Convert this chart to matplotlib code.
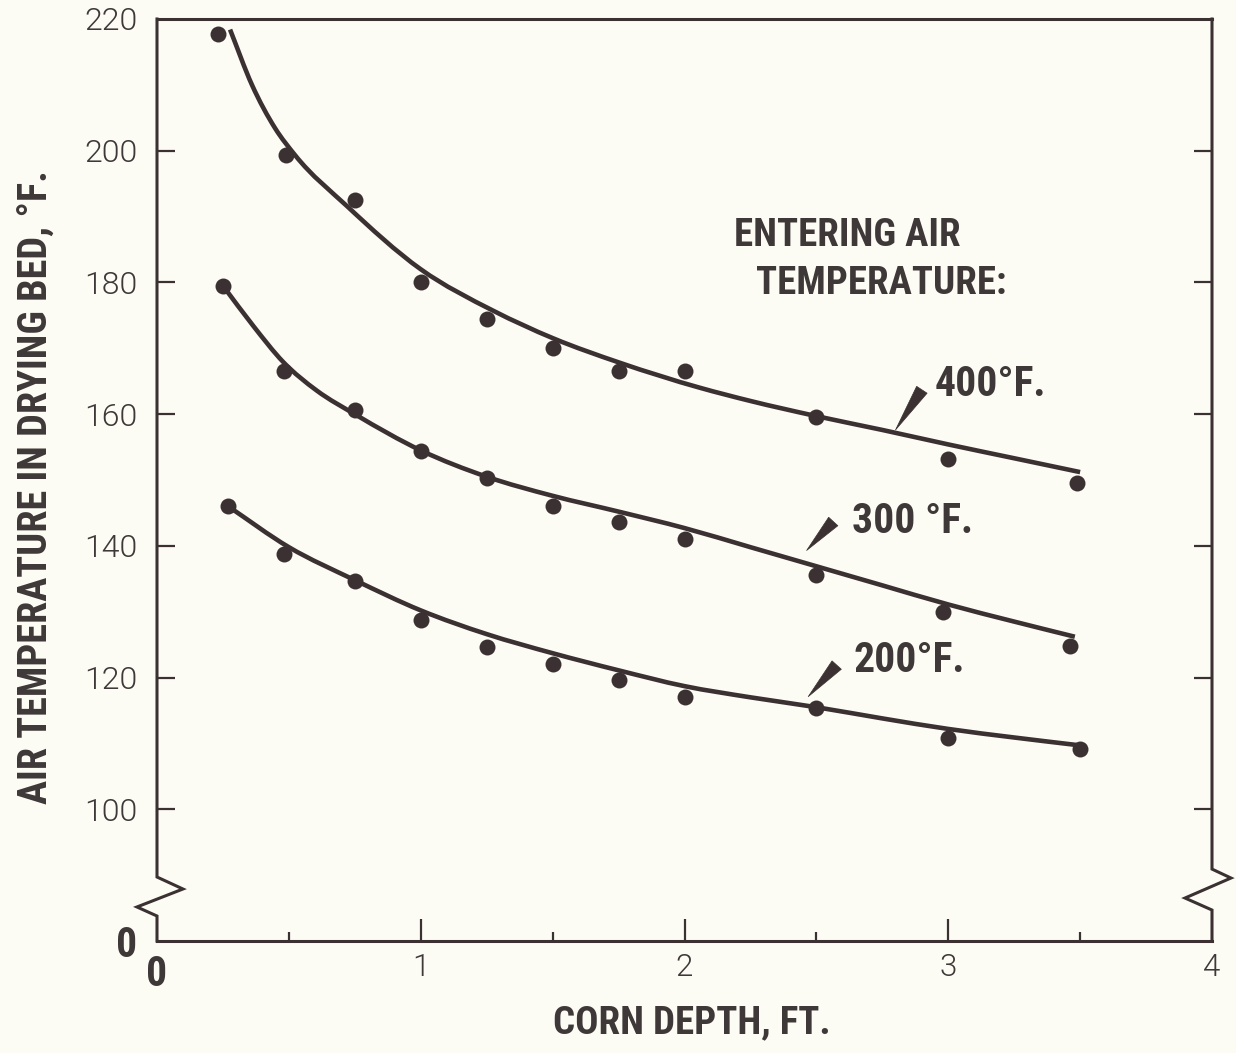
import matplotlib
matplotlib.use("Agg")
import matplotlib.pyplot as plt
from matplotlib.font_manager import FontProperties, fontManager
from matplotlib.path import Path
from matplotlib.patches import PathPatch

# ---------------- data ----------------
# measured points
x_400 = [0.23, 0.49, 0.75, 1.00, 1.25, 1.50, 1.75, 2.00, 2.50, 3.00, 3.49]
y_400 = [217.7, 199.3, 192.5, 180.0, 174.5, 170.1, 166.5, 166.5, 159.6, 153.2, 149.5]

x_300 = [0.25, 0.48, 0.75, 1.00, 1.25, 1.50, 1.75, 2.00, 2.50, 2.98, 3.46]
y_300 = [179.5, 166.5, 160.7, 154.4, 150.3, 146.1, 143.6, 141.0, 135.5, 130.0, 124.8]

x_200 = [0.27, 0.48, 0.75, 1.00, 1.25, 1.50, 1.75, 2.00, 2.50, 3.00, 3.50]
y_200 = [146.0, 138.7, 134.7, 128.8, 124.7, 122.1, 119.7, 117.1, 115.4, 110.8, 109.1]

# fitted curves
cx_400 = [0.277, 0.36, 0.448, 0.524, 0.72, 1.00, 1.275, 1.503, 1.755,
          2.059, 2.25, 2.50, 2.75, 3.00, 3.25, 3.50]
cy_400 = [218.4, 210.0, 203.4, 199.3, 191.6, 182.0, 175.7, 171.5, 167.8,
          164.0, 162.0, 159.7, 157.6, 155.4, 153.3, 151.2]

cx_300 = [0.25, 0.365, 0.479, 0.605, 0.754, 1.00, 1.25, 1.50, 1.75, 2.00, 2.25,
          2.50, 2.75, 3.00, 3.25, 3.48]
cy_300 = [179.5, 173.4, 167.9, 163.6, 159.9, 154.5, 150.5, 147.6, 145.2, 142.7, 139.8,
          136.9, 134.0, 131.1, 128.5, 126.2]

cx_200 = [0.27, 0.50, 0.75, 1.00, 1.25, 1.50, 1.75, 2.00, 2.25, 2.50, 2.75,
          3.00, 3.25, 3.50]
cy_200 = [146.0, 139.8, 134.8, 130.2, 126.6, 123.7, 121.1, 118.7, 117.0, 115.5,
          113.8, 112.2, 110.9, 109.7]

series_labels = ["400\u00b0F.", "300 \u00b0F.", "200\u00b0F."]

x_ticks = [0, 1, 2, 3, 4]
x_ticklabels = ["0", "1", "2", "3", "4"]
x_minor = [0.5, 1.5, 2.5, 3.5]
y_ticks = [80, 100, 120, 140, 160, 180, 200, 220]
y_ticklabels = ["0", "100", "120", "140", "160", "180", "200", "220"]

# ---------------- fonts ----------------
def _weight(w):
    if isinstance(w, str):
        return {"bold": 700, "semibold": 600, "demibold": 600, "heavy": 800,
                "black": 900, "normal": 400, "regular": 400}.get(w.lower(), 400)
    return int(w)

def pick_condensed_bold():
    prefs = ["Noto Sans", "Roboto Condensed", "Liberation Sans Narrow",
             "Open Sans", "DejaVu Sans", "Roboto", "Lato", "Inter"]
    cands = []
    for f in fontManager.ttflist:
        nm = f.name
        fn = f.fname.lower()
        cond = (("narrow" in nm.lower()) or ("condensed" in nm.lower())
                or ("condensed" in fn) or ("narrow" in fn)
                or (str(f.stretch) in ("condensed", "semi-condensed", "extra-condensed")))
        if not cond or f.style != "normal":
            continue
        if "extracondensed" in fn.replace("-", "").replace("_", "") or "extra" in str(f.stretch):
            continue
        w = _weight(f.weight)
        if w < 600:
            continue
        rank = next((i for i, p in enumerate(prefs) if nm.startswith(p)), 99)
        cands.append((rank, abs(w - 700), f.fname))
    if cands:
        cands.sort()
        return cands[0][2]
    return None

COND = pick_condensed_bold()

def bold_narrow(s):
    if COND:
        return FontProperties(fname=COND, size=s)
    return FontProperties(family=["Liberation Sans", "DejaVu Sans"], weight="bold",
                          size=s * 0.9)

light = lambda s: FontProperties(family=["Roboto", "Liberation Sans", "DejaVu Sans"],
                                 weight=300, size=s)

# ---------------- style ----------------
BG = "#fcfcf4"
INK = "#3b3133"
TXT = "#3e3838"

def smooth_path(xs, ys):
    """Cubic Hermite (Bezier) rendering through the read curve points."""
    n = len(xs)
    h = [xs[i + 1] - xs[i] for i in range(n - 1)]
    d = [(ys[i + 1] - ys[i]) / h[i] for i in range(n - 1)]
    m = [0.0] * n
    m[0], m[-1] = d[0], d[-1]
    for i in range(1, n - 1):
        m[i] = (d[i - 1] * h[i] + d[i] * h[i - 1]) / (h[i - 1] + h[i])
    verts = [(xs[0], ys[0])]
    codes = [Path.MOVETO]
    for i in range(n - 1):
        verts += [(xs[i] + h[i] / 3, ys[i] + m[i] * h[i] / 3),
                  (xs[i + 1] - h[i] / 3, ys[i + 1] - m[i + 1] * h[i] / 3),
                  (xs[i + 1], ys[i + 1])]
        codes += [Path.CURVE4] * 3
    return Path(verts, codes)

W, H = 1236, 1053
fig = plt.figure(figsize=(W / 100, H / 100), dpi=100, facecolor=BG)
L, R, T, B = 157, 1212, 19, 941
ax = fig.add_axes([L / W, 1 - B / H, (R - L) / W, (B - T) / H], facecolor=BG)
ax.set_xlim(0, 4)
ax.set_ylim(80, 220)

# curves and points
for cx, cy, px, py in [(cx_400, cy_400, x_400, y_400),
                       (cx_300, cy_300, x_300, y_300),
                       (cx_200, cy_200, x_200, y_200)]:
    ax.add_patch(PathPatch(smooth_path(cx, cy), fc="none", ec=INK, lw=3.3,
                           capstyle="butt", zorder=3))
    ax.plot(px, py, "o", color=INK, ms=11.5, mew=0, zorder=4)

# spines
for s in ["left", "right"]:
    ax.spines[s].set_visible(False)
for s in ["top", "bottom"]:
    ax.spines[s].set_linewidth(2.2)
    ax.spines[s].set_color(INK)

zig_l_x = [0, 0, 0.0246, -0.019, 0, 0]
zig_l_y = [1, 0.0694, 0.0564, 0.0369, 0.0271, 0]
zig_r_x = [1, 1, 1.018, 0.9744, 1, 1]
zig_r_y = [1, 0.078, 0.0683, 0.0466, 0.0336, 0]
for zx, zy in [(zig_l_x, zig_l_y), (zig_r_x, zig_r_y)]:
    ax.plot(zx, zy, transform=ax.transAxes, color=INK, lw=2.2, clip_on=False,
            solid_joinstyle="miter", zorder=5)

# ticks
ax.set_xticks(x_ticks)
ax.set_xticklabels(x_ticklabels)
ax.set_xticks(x_minor, minor=True)
ax.tick_params(axis="x", which="major", direction="in", length=16, width=1.6,
               color=INK, pad=9, labelcolor=TXT)
ax.tick_params(axis="x", which="minor", direction="in", length=6.5, width=1.6,
               color=INK)
ax.set_yticks(y_ticks)
ax.set_yticklabels(y_ticklabels)
ax.tick_params(axis="y", which="major", direction="in", length=13, width=1.6,
               color=INK, left=True, right=True, pad=14, labelcolor=TXT)

for lab in ax.get_xticklabels():
    lab.set_fontproperties(light(22.5))
for lab in ax.get_yticklabels():
    lab.set_fontproperties(light(23))
ax.get_xticklabels()[0].set_fontproperties(bold_narrow(30))
ax.get_yticklabels()[0].set_fontproperties(bold_narrow(30))

xt = ax.xaxis.get_major_ticks()
for i in (0, len(xt) - 1):
    xt[i].tick1line.set_visible(False)
yt = ax.yaxis.get_major_ticks()
for i in (0, len(yt) - 1):
    yt[i].tick1line.set_visible(False)
    yt[i].tick2line.set_visible(False)

# axis titles
fig.text(692 / W, 1 - 1033 / H, "CORN DEPTH, FT.", ha="center", va="baseline",
         fontproperties=bold_narrow(28), color=TXT)
fig.text(37 / W, 1 - 487 / H, "AIR TEMPERATURE IN DRYING BED, \u00b0F.", ha="center",
         va="center", rotation=90, fontproperties=bold_narrow(29), color=TXT)

# heading
ax.text(2.188, 185.6, "ENTERING AIR", ha="left", va="baseline",
        fontproperties=bold_narrow(28), color=TXT)
ax.text(2.271, 178.2, "TEMPERATURE:", ha="left", va="baseline",
        fontproperties=bold_narrow(28), color=TXT)

# curve labels with wedge pointers
label_pos = [(2.95, 162.7), (2.634, 142.0), (2.64, 120.9)]
wedge_tip = [(2.80, 157.6), (2.463, 139.3), (2.469, 117.1)]
wedge_base = [(2.90, 163.7), (2.564, 143.7), (2.577, 121.9)]
for txt, lp, tp, bp in zip(series_labels, label_pos, wedge_tip, wedge_base):
    ax.text(lp[0], lp[1], txt, ha="left", va="baseline",
            fontproperties=bold_narrow(30), color=TXT)
    ax.annotate("", xy=tp, xytext=bp,
                arrowprops=dict(arrowstyle="wedge,tail_width=0.5,shrink_factor=0.5",
                                fc=INK, ec=INK, lw=0.5, shrinkA=0, shrinkB=0,
                                mutation_scale=18))

fig.savefig("out.png", dpi=100, facecolor=BG)
